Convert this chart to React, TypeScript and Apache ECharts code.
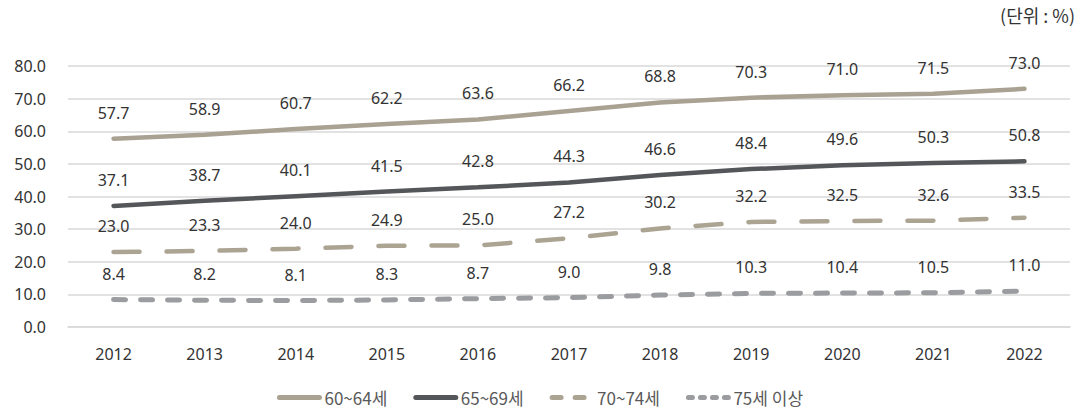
import React, { useEffect, useRef } from "react";
import * as echarts from "echarts";

const years = ["2012", "2013", "2014", "2015", "2016", "2017", "2018", "2019", "2020", "2021", "2022"];
const seriesNames = ["60~64세", "65~69세", "70~74세", "75세 이상"];
const age60 = [57.7, 58.9, 60.7, 62.2, 63.6, 66.2, 68.8, 70.3, 71.0, 71.5, 73.0];
const age65 = [37.1, 38.7, 40.1, 41.5, 42.8, 44.3, 46.6, 48.4, 49.6, 50.3, 50.8];
const age70 = [23.0, 23.3, 24.0, 24.9, 25.0, 27.2, 30.2, 32.2, 32.5, 32.6, 33.5];
const age75 = [8.4, 8.2, 8.1, 8.3, 8.7, 9.0, 9.8, 10.3, 10.4, 10.5, 11.0];
const unitText = "(단위 : %)";

const FONT = "'Noto Sans', 'Noto Sans CJK KR', sans-serif";
const KFONT = "'Noto Sans CJK KR', sans-serif";
const TEXT = "#333333";
const colors = ["#a9a191", "#55565a", "#aca493", "#9b9c9f"];

export default function App() {
  const ref = useRef<HTMLDivElement>(null);
  useEffect(() => {
    document.body.style.margin = "0";
    const chart = echarts.init(ref.current!, null, { renderer: "svg" });
    const mk = (name: string, data: number[], color: string, type: any, width: number) => ({
      name,
      type: "line",
      data,
      symbol: "circle",
      symbolSize: 0.1,
      showSymbol: true,
      lineStyle: { color, width, type, cap: "round" },
      itemStyle: { color: "rgba(0,0,0,0)", borderWidth: 0 },
      label: {
        show: true,
        position: "top",
        distance: 18,
        formatter: (p: any) => Number(p.value).toFixed(1),
        color: TEXT,
        fontSize: 16,
        fontFamily: FONT,
      },
    });
    chart.setOption({
      animation: false,
      textStyle: { fontFamily: FONT },
      graphic: [
        {
          type: "text",
          right: 5,
          top: 6,
          style: { text: unitText, fill: TEXT, fontSize: 18, fontFamily: KFONT },
        },
      ],
      legend: {
        bottom: 4,
        left: "center",
        itemWidth: 40,
        itemHeight: 14,
        itemGap: 26,
        textStyle: { color: "#595959", fontSize: 17, fontFamily: KFONT },
        data: [
          { name: seriesNames[0], lineStyle: { width: 5, type: "solid", color: colors[0], cap: "round" } },
          { name: seriesNames[1], lineStyle: { width: 5, type: "solid", color: colors[1], cap: "round" } },
          { name: seriesNames[2], lineStyle: { width: 5, type: [9, 14], color: colors[2], cap: "round" } },
          { name: seriesNames[3], lineStyle: { width: 5, type: [4, 8], color: colors[3], cap: "round" } },
        ],
      },
      grid: { left: 68, right: 10, top: 66, bottom: 88 },
      xAxis: {
        type: "category",
        data: years,
        boundaryGap: true,
        axisLine: { show: true, lineStyle: { color: "#d9d9d9", width: 1.5 } },
        axisTick: { show: false },
        axisLabel: { color: TEXT, fontSize: 16, margin: 19, fontFamily: FONT },
      },
      yAxis: {
        type: "value",
        min: 0,
        max: 80,
        interval: 10,
        axisLine: { show: false },
        axisTick: { show: false },
        axisLabel: {
          color: TEXT,
          fontSize: 16,
          margin: 22,
          fontFamily: FONT,
          formatter: (v: number) => v.toFixed(1),
        },
        splitLine: { lineStyle: { color: "#d9d9d9", width: 1.5 } },
      },
      series: [
        mk(seriesNames[0], age60, colors[0], "solid", 4.5),
        mk(seriesNames[1], age65, colors[1], "solid", 4.5),
        mk(seriesNames[2], age70, colors[2], [26, 27], 4.5),
        mk(seriesNames[3], age75, colors[3], [12, 15], 5),
      ],
    });
    return () => chart.dispose();
  }, []);
  return <div ref={ref} style={{ width: 1080, height: 415 }} />;
}
